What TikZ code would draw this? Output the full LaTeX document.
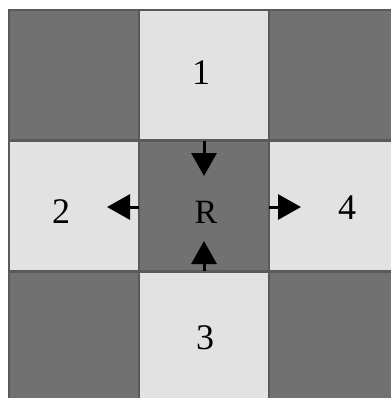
\documentclass[tikz,border=0pt]{standalone}
\usepackage{fontspec}
\setmainfont{Liberation Serif}
\usetikzlibrary{arrows.meta}
\definecolor{darkcell}{HTML}{717171}
\definecolor{lightcell}{HTML}{E2E2E2}
\definecolor{edgegray}{HTML}{5A5A5A}
\tikzset{
  cell/.style={draw=edgegray, line width=1.5pt, minimum size=130pt, inner sep=0pt, outer sep=0pt},
  dark/.style={cell, fill=darkcell},
  light/.style={cell, fill=lightcell},
  arr/.style={-{Triangle[length=23pt,width=25pt]}, line width=3pt, black}
}
\begin{document}
\begin{tikzpicture}[x=1pt,y=-1pt,font=\fontsize{36}{40}\selectfont]
  % 画布
  \useasboundingbox[fill=white] (0,0) rectangle (390,398);
  % 第一行
  \node[dark]  (tl) at (74,75)  {};
  \node[light] (c1) at (204,75) {};
  \node[dark]  (tr) at (334,75) {};
  % 第二行（中心为R）
  \node[light] (c2) at (74,206)  {};
  \node[dark]  (cR) at (204,206) {};
  \node[light] (c4) at (334,206) {};
  % 第三行
  \node[dark]  (bl) at (74,337)  {};
  \node[light] (c3) at (204,337) {};
  \node[dark]  (br) at (334,337) {};
  % 编号
  \node (n1) at (201,73)  {1};
  \node (n2) at (61,212)  {2};
  \node (n4) at (347,208) {4};
  \node (n3) at (205,338) {3};
  \node[font=\fontsize{34}{38}\selectfont] (nR) at (206,212) {R};
  % 箭头终点
  \coordinate (a1) at (204,176);
  \coordinate (a2) at (107,207);
  \coordinate (a4) at (301,207);
  \coordinate (a3) at (204,241);
  % 四个方向的箭头
  \draw[arr] (cR.north) -- (a1);
  \draw[arr] (cR.west |- a2) -- (a2);
  \draw[arr] (cR.east |- a4) -- (a4);
  \draw[arr] (cR.south) -- (a3);
\end{tikzpicture}
\end{document}
